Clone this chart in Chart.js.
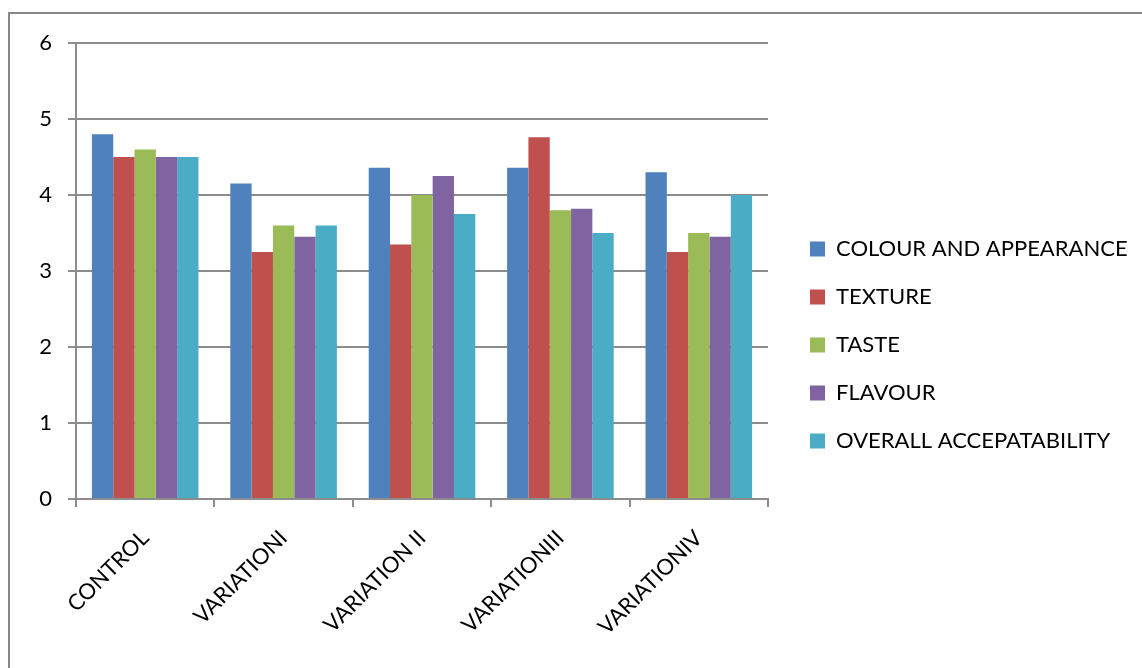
<!DOCTYPE html>
<html>
<head>
<meta charset="utf-8">
<script src="https://cdn.jsdelivr.net/npm/chart.js@4.4.1/dist/chart.umd.min.js"></script>
<style>
  html, body { margin: 0; padding: 0; background: #fff; overflow: hidden; }
  #frame { position: absolute; left: 8px; top: 12px; width: 1200px; height: 700px;
           border-left: 2px solid #878787; border-top: 2px solid #878787; }
  #wrap { position: absolute; left: 0; top: 0; width: 1142px; height: 668px; }
</style>
</head>
<body>
<div id="frame"></div>
<div id="wrap"><canvas id="chart"></canvas></div>
<script>
// values
var categories = ['CONTROL', 'VARIATIONI', 'VARIATION II', 'VARIATIONIII', 'VARIATIONIV'];
var seriesNames = ['COLOUR AND APPEARANCE', 'TEXTURE', 'TASTE', 'FLAVOUR', 'OVERALL ACCEPATABILITY'];
var colourAppearance = [4.8, 4.15, 4.36, 4.36, 4.3];
var texture = [4.5, 3.25, 3.35, 4.76, 3.25];
var taste = [4.6, 3.6, 4.0, 3.8, 3.5];
var flavour = [4.5, 3.45, 4.25, 3.82, 3.45];
var overall = [4.5, 3.6, 3.75, 3.5, 4.0];
var yTicks = [0, 1, 2, 3, 4, 5, 6];

var colors = ['#4F81BD', '#C0504D', '#9BBB59', '#8064A2', '#4BACC6'];
var allSeries = [colourAppearance, texture, taste, flavour, overall];

var FONT = 'Lato';
var FSIZE = 22;
var gridColor = '#8c8c8c';

Chart.defaults.color = '#000';
Chart.defaults.font.family = FONT;
Chart.defaults.font.size = FSIZE;

// legend box should start at x=810, so work out the right padding from the widest label
var mctx = document.createElement('canvas').getContext('2d');
mctx.font = FSIZE + 'px ' + FONT;
var widest = Math.max.apply(null, seriesNames.map(function (s) { return mctx.measureText(s).width; }));
var legendPad = 26;
var legendWidth = legendPad + 15 + FSIZE / 2 + widest + 10;
var padRight = Math.max(0, 1142 - 784 - legendWidth);

var datasets = allSeries.map(function (vals, i) {
  return {
    label: seriesNames[i],
    data: vals,
    backgroundColor: colors[i],
    borderWidth: 0,
    barPercentage: 1,
    categoryPercentage: 0.77
  };
});

var ctx = document.getElementById('chart').getContext('2d');
var myChart = new Chart(ctx, {
  type: 'bar',
  data: { labels: categories, datasets: datasets },
  options: {
    responsive: true,
    maintainAspectRatio: false,
    animation: false,
    layout: { padding: { left: 0, top: 43, right: padRight, bottom: 21 } },
    plugins: {
      legend: {
        position: 'right',
        align: 'center',
        maxWidth: 420,
        labels: {
          boxWidth: 15,
          boxHeight: 15,
          padding: legendPad,
          font: { size: FSIZE, family: FONT }
        }
      },
      tooltip: { enabled: false }
    },
    scales: {
      x: {
        grid: { offset: true, drawOnChartArea: false, drawTicks: true, tickLength: 8, color: gridColor, lineWidth: 2 },
        border: { display: true, color: gridColor, width: 2 },
        ticks: { autoSkip: false, minRotation: 45, maxRotation: 45, padding: 18 },
        afterFit: function (s) { s.height = 148; }
      },
      y: {
        min: 0,
        max: 6,
        afterBuildTicks: function (s) { s.ticks = yTicks.map(function (v) { return { value: v }; }); },
        grid: { color: gridColor, lineWidth: 2, drawTicks: true, tickLength: 8 },
        border: { display: true, color: gridColor, width: 2 },
        ticks: { padding: 16 },
        afterFit: function (s) { s.width = 76; }
      },
      // empty spacer between plot and legend
      gap: {
        type: 'linear',
        position: 'right',
        grid: { display: false },
        border: { display: false },
        ticks: { display: false },
        afterFit: function (s) { s.width = 16; }
      }
    }
  }
});
</script>
</body>
</html>
